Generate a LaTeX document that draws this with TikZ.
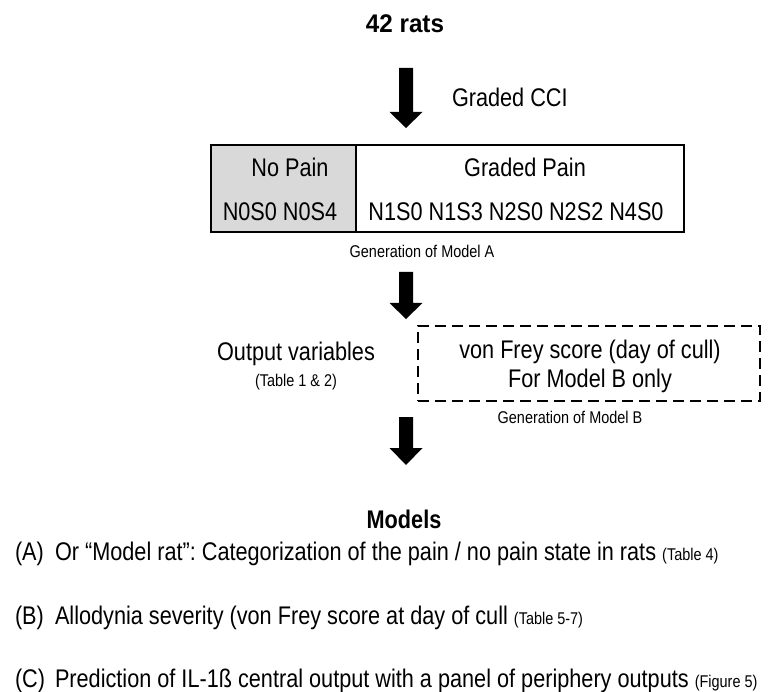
\documentclass[tikz,border=0pt]{standalone}
\usepackage{fontspec}
\setmainfont[FakeStretch=0.85]{Liberation Sans}
\newfontfamily\boldwide[FakeStretch=0.95]{Liberation Sans Bold}
\newcommand{\szbig}{\fontsize{25.5}{30}\selectfont}
\newcommand{\szsmall}{\fontsize{17}{20}\selectfont}
\definecolor{cellgrey}{RGB}{217,217,217}
\newcommand{\blkarrow}[4]{%
  \fill (#1-7,#2) -- (#1+7,#2) -- (#1+7,#3) -- (#1+16.5,#3) -- (#1,#4) -- (#1-16.5,#3) -- (#1-7,#3) -- cycle;}
\frenchspacing
\begin{document}
\begin{tikzpicture}[x=1pt,y=-1pt,
  every node/.style={inner sep=0pt, outer sep=0pt},
  txt/.style={anchor=base, font=\szbig},
  note/.style={anchor=base, font=\szsmall},
  cell/.style={draw, line width=2pt, anchor=north west, minimum height=87pt},
  dashbox/.style={draw, line width=2pt, dash pattern=on 11pt off 6pt, anchor=north west, minimum width=342pt, minimum height=75pt}]
\useasboundingbox (0,0) rectangle (773,692);
% title
\node[txt] (rats) at (405,33) {\boldwide 42 rats};
% arrow 1
\coordinate (a1) at (406,68);
\blkarrow{406}{68}{112}{128}
\node[txt, anchor=base west] (cci) at (452,107) {Graded CCI};
% groups box
\node[cell, fill=cellgrey, minimum width=145pt] (np) at (211,145) {};
\node[cell, minimum width=328pt] (gp) at (356,145) {};
\node[txt] (nptitle) at (290,177) {No Pain};
\node[txt] (npgroups) at (280,221) {N0S0 N0S4};
\node[txt] (gptitle) at (525,177) {Graded Pain};
\node[txt] (gpgroups) at (516,221) {N1S0 N1S3 N2S0 N2S2 N4S0};
\node[note] (genA) at (422,258) {Generation of Model A};
% arrow 2
\blkarrow{406}{272}{303}{319}
\node[txt] (outvar) at (296,360) {Output variables};
\node[note] (tab12) at (296,386) {(Table 1 \& 2)};
\node[dashbox] (vf) at (418,326) {};
\node[txt] (vf1) at (590,358) {von Frey score (day of cull)};
\node[txt] (vf2) at (590,387) {For Model B only};
\node[note] (genB) at (570,423) {Generation of Model B};
% arrow 3
\blkarrow{406}{417}{448}{465}
% models
\node[txt] (models) at (404,528) {\bfseries Models};
\node[txt, anchor=base west] (la) at (15,560) {(A)};
\node[txt, anchor=base west] (ta) at (55,560) {Or “Model rat”: Categorization of the pain / no pain state in rats {\szsmall(Table 4)}};
\node[txt, anchor=base west] (lb) at (15,624) {(B)};
\node[txt, anchor=base west] (tb) at (55,624) {Allodynia severity (von Frey score at day of cull {\szsmall(Table 5-7)}};
\node[txt, anchor=base west] (lc) at (15,687) {(C)};
\node[txt, anchor=base west] (tc) at (55,687) {Prediction of IL-1ß central output with a panel of periphery outputs {\szsmall(Figure 5)}};
\end{tikzpicture}
\end{document}
